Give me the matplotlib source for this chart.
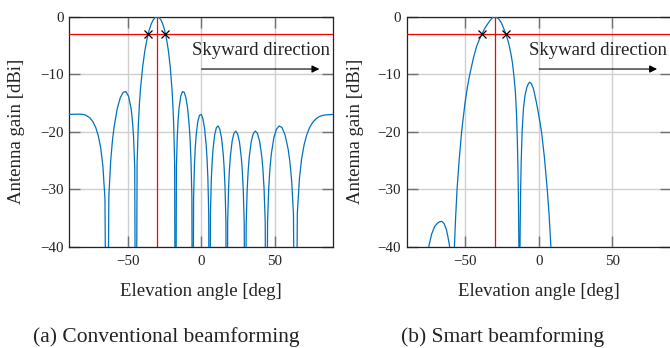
import matplotlib
matplotlib.use("Agg")
import matplotlib.pyplot as plt

# ---------------- data ----------------
conv_angle = [-90, -84.27, -81.89, -80.06, -78.52, -75.93, -73.74, -71.81, -70.05, -68.43, -66.93, -65.51, -64.16,
              -62.87, -61.64, -60.46, -59.32, -57.14, -55.08, -53.13, -51.26, -49.46, -47.73, -46.89, -46.05, -45.23, -44.43,
              -43.63, -42.84, -42.07, -41.30, -39.79, -38.32, -36.87, -35.45, -34.06, -32.68, -31.33, -30.0,
              -28.69, -27.39, -26.10, -24.83, -23.58, -22.33, -21.10, -19.88, -19.27, -18.66, -18.06, -17.46,
              -16.86, -16.26, -15.66, -15.07, -13.89, -12.71, -11.54, -10.37, -9.21, -8.05, -7.47, -6.89, -6.32, -5.74,
              -5.16, -4.59, -4.01, -3.44, -2.29, -1.15, 0.0, 1.15, 2.29, 3.44, 4.01, 4.59, 5.16, 5.74,
              6.32, 6.89, 7.47, 8.05, 9.21, 10.37, 11.54, 12.71, 13.89, 15.07, 15.66, 16.26, 16.86, 17.46,
              18.06, 18.66, 19.27, 19.88, 21.10, 22.33, 23.58, 24.83, 26.10, 27.39, 28.04, 28.69, 29.34, 30.0,
              30.66, 31.33, 32.01, 32.68, 34.06, 35.45, 36.87, 38.32, 39.79, 41.30, 42.07, 42.84, 43.63, 44.43,
              45.23, 46.05, 46.89, 47.73, 49.46, 51.26, 53.13, 55.08, 57.14, 59.32, 60.46, 61.64, 62.87, 64.16,
              65.51, 66.93, 68.43, 70.05, 71.81, 73.74, 75.93, 78.52, 80.06, 81.89, 84.27, 90]
conv_gain = [-16.99, -16.95, -16.96, -17.02, -17.15, -17.56, -18.25, -19.26, -20.71, -22.78, -25.95, -31.68, -80,
             -31.30, -25.19, -21.65, -19.20, -15.98, -14.10, -13.14, -13.02, -13.82, -15.94, -17.83, -20.80, -26.32, -80,
             -25.5, -19.11, -15.29, -12.53, -8.61, -5.89, -3.89, -2.40, -1.31, -0.57, -0.14, 0.0,
             -0.14, -0.57, -1.31, -2.40, -3.89, -5.89, -8.61, -12.53, -15.29, -19.11, -25.5, -80,
             -26.32, -20.80, -17.83, -15.94, -13.82, -13.02, -13.14, -14.10, -15.98, -19.20, -21.65, -25.19, -31.30, -80,
             -31.68, -25.95, -22.78, -20.71, -18.25, -17.15, -16.99, -17.69, -19.34, -22.36, -24.71, -28.15, -34.17, -80,
             -34.37, -28.55, -25.30, -23.15, -20.54, -19.29, -19.00, -19.57, -21.09, -23.99, -26.28, -29.67, -35.63, -80,
             -35.72, -29.85, -26.55, -24.34, -21.63, -20.28, -19.89, -20.37, -21.80, -24.60, -26.85, -30.20, -36.11, -80,
             -36.11, -30.20, -26.85, -24.60, -21.80, -20.37, -19.89, -20.28, -21.63, -24.34, -26.55, -29.85, -35.72, -80,
             -35.63, -29.67, -26.28, -23.99, -21.09, -19.57, -19.00, -19.29, -20.54, -23.15, -25.30, -28.55, -34.37, -80,
             -34.17, -28.15, -24.71, -22.36, -20.63, -19.34, -18.38, -17.69, -17.43, -17.23, -17.09, -16.99]

smart_angle = [-90, -80, -77, -75, -73, -71, -69, -67.5, -66, -64.5, -63, -62, -61.2, -60.7, -60, -59.5, -59.0,
               -58.5, -58.0, -57.5, -56.7, -55.7, -54.3, -52.6, -50.3, -48.5, -47.0, -44.4, -42.2, -40.4, -38.7,
               -37.0, -35.0, -33.0, -31.5, -30.0, -28.5, -27.0, -25.5, -24.0, -22.5, -21.0, -20.2, -19.0, -18.0,
               -17.1, -16.0, -15.2, -14.6, -14.2, -13.9, -13.7, -13.55, -13.2,
               -12.9, -12.7, -12.4, -12.0, -11.4, -10.5, -9.5, -8.2, -7.2, -6.3, -5.2, -4.0, -3.6, -1.6, 0.0,
               1.8, 3.8, 5.7, 7.0, 8.2, 9.5, 11.0, 90]
smart_gain = [-70, -50, -43.5, -40, -37.8, -36.5, -35.9, -35.65, -35.6, -36.0, -37.0, -38.2, -39.3, -40, -43, -48, -65,
              -47, -43, -40, -35, -30, -25, -20, -15, -12, -10, -7, -5, -3.9, -3.0,
              -2.1, -1.3, -0.6, -0.15, 0.0, -0.15, -0.5, -1.1, -2.0, -3.0, -4.2, -5.0, -6.5, -8.0,
              -10.0, -13.0, -17.0, -22.0, -27.0, -32.0, -37.0, -42.0, -70,
              -42.0, -36.0, -30.0, -25.0, -20.0, -16.0, -13.8, -12.3, -11.7, -11.4, -11.6, -12.3, -12.6, -15.0, -17.2,
              -20.0, -24.5, -30.0, -34.5, -40.0, -46.0, -55.0, -80]

conv_hpbw_angle = [-36.1, -24.3]
smart_hpbw_angle = [-38.7, -22.5]
hpbw_gain = [-3, -3]
steer_angle = -30
threshold_gain = -3

xticks = [-50, 0, 50]
yticks = [-40, -30, -20, -10, 0]
captions = ["(a) Conventional beamforming", "(b) Smart beamforming"]

# ---------------- style ----------------
plt.rcParams['font.family'] = ['Liberation Serif', 'DejaVu Serif']
plt.rcParams['axes.unicode_minus'] = True

BLUE = '#0072bd'
fig = plt.figure(figsize=(6.70, 3.48), dpi=100)

W, H = 670.0, 348.0
ax_left_px = [69.0, 406.7]
ax_w_px = 264.3
ax_top_px, ax_bot_px = 16.7, 246.7

panels = [(conv_angle, conv_gain, conv_hpbw_angle),
          (smart_angle, smart_gain, smart_hpbw_angle)]

for i, (ang, gain, hp) in enumerate(panels):
    ax = fig.add_axes([ax_left_px[i] / W, 1 - ax_bot_px / H,
                       ax_w_px / W, (ax_bot_px - ax_top_px) / H])
    ax.set_xlim(-90, 90)
    ax.set_ylim(-40, 0)
    ax.set_xticks(xticks)
    ax.set_yticks(yticks)
    ax.grid(True, color='#cfcfcf', linewidth=1.0)
    ax.set_axisbelow(True)
    ax.tick_params(direction='in', length=8, width=1.0, color='#707070',
                   top=True, right=True, labelsize=10.8, labelcolor='#222222')
    ax.tick_params(axis='x', pad=6)
    ax.tick_params(axis='y', pad=4)
    for s in ax.spines.values():
        s.set_linewidth(0.9)
        s.set_color('#222222')

    ax.axhline(threshold_gain, color='#ff0000', linewidth=0.9, zorder=3)
    ax.axvline(steer_angle, color='#ff0000', linewidth=0.9, zorder=3)
    ax.plot(ang, gain, color=BLUE, linewidth=0.9, zorder=4)
    ax.plot(hp, hpbw_gain, linestyle='none', marker='x', color='black',
            markersize=6, markeredgewidth=0.9, zorder=5)

    ax.text(-6.5, -6.7, 'Skyward direction', fontsize=13.5, ha='left',
            va='baseline', color='#222222', zorder=6)
    ax.annotate('', xy=(80.5, -9.1), xytext=(0.3, -9.1),
                arrowprops=dict(arrowstyle='-|>', color='black', lw=0.8,
                                mutation_scale=11, shrinkA=0, shrinkB=0),
                zorder=6)

    ax.set_xlabel('Elevation angle [deg]', fontsize=13.5, color='#222222', va='center')
    ax.xaxis.set_label_coords(0.5, -(291.7 - ax_bot_px) / (ax_bot_px - ax_top_px))
    ax.set_ylabel('Antenna gain [dBi]', fontsize=13.5, color='#222222', va='center')
    ylab_x = [17.0, 355.5][i]
    ax.yaxis.set_label_coords((ylab_x - ax_left_px[i]) / ax_w_px, 0.5)

fig.text(0.248, 1 - 337.3 / H, captions[0], fontsize=15.5, ha='center', va='center', color='#222222')
fig.text(0.750, 1 - 337.3 / H, captions[1], fontsize=15.5, ha='center', va='center', color='#222222')

fig.savefig('out.png', dpi=100)
